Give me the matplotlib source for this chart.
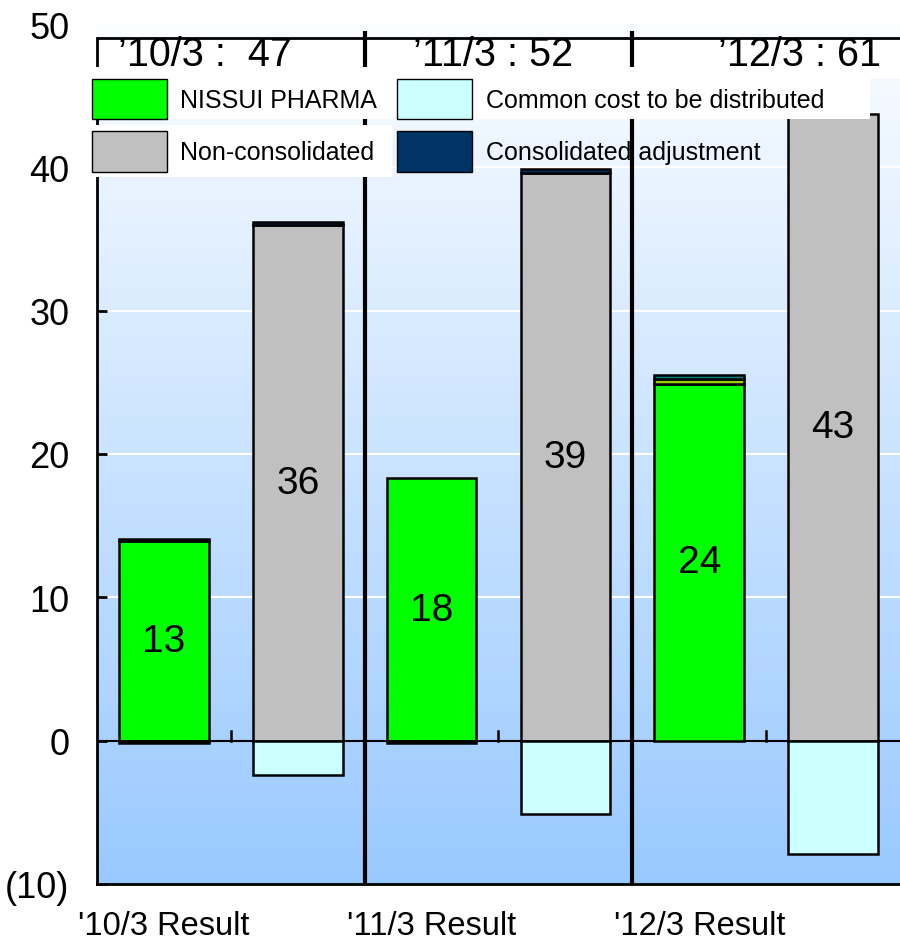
import numpy as np
import matplotlib
matplotlib.use("Agg")
import matplotlib.pyplot as plt
from matplotlib.patches import Patch, Rectangle
from matplotlib.colors import to_rgb

plt.rcParams['font.family'] = ['Liberation Sans', 'DejaVu Sans']

# data (billions of yen), bars in order: 10/3 pharma, 10/3 non-consol, 11/3 ..., 12/3 ...
periods = ["'10/3 Result", "'11/3 Result", "'12/3 Result"]
totals = ["\u201910/3 :  47", "\u201911/3 : 52", "\u201912/3 : 61"]
nissui = [13.9, 0, 18.3, 0, 24.9, 0]
non_consol = [0, 36.0, 0, 39.6, 0, 43.7]
common_cost = [0, -2.4, 0, -5.1, 0, -7.9]
cons_adj = [0.2, 0.2, 0, 0.3, 0, 0]
cons_adj_neg = [-0.15, 0, -0.15, 0, 0, 0]
other_a = [0, 0, 0, 0, 0.3, 0]
other_b = [0, 0, 0, 0, 0.3, 0]
bar_labels = ["13", "36", "18", "39", "24", "43"]

c_green = '#00ff00'
c_gray = '#c0c0c0'
c_cyan = '#ccffff'
c_navy = '#003366'
c_yg = '#99cc00'
c_teal = '#008080'

W, H = 900, 945
fig = plt.figure(figsize=(9, 9.45), dpi=100)
ax = fig.add_axes([97/W, 1-885/H, 1-97/W, 860/H])

x = np.arange(6)
w = 0.67

# gradient background
top = np.array(to_rgb('#fbfdff'))
bot = np.array(to_rgb('#99c9ff'))
t = np.linspace(0, 1, 256)[:, None]
grad = (bot + (top - bot) * t)[:, None, :]
ax.imshow(grad, extent=[-0.5, 5.5, -10, 50], origin='lower', aspect='auto', zorder=0)
ax.axhspan(46.3, 49, color='white', zorder=0.5)

for g in [10, 20, 30, 40]:
    ax.axhline(g, color='white', lw=1.5, zorder=1)
ax.axhline(0, color='black', lw=1.5, zorder=2)


def draw(vals, bottom, color):
    vals = np.array(vals, dtype=float)
    m = vals != 0
    ax.bar(x[m], vals[m], w, bottom=np.array(bottom, dtype=float)[m], color=color,
           edgecolor='black', lw=1.8, zorder=3)


zeros = np.zeros(6)
draw(nissui, zeros, c_green)
draw(non_consol, zeros, c_gray)
base = np.array(nissui) + np.array(non_consol)
draw(other_a, base, c_yg)
base = base + np.array(other_a)
draw(other_b, base, c_teal)
base = base + np.array(other_b)
draw(cons_adj, base, c_navy)
draw(common_cost, zeros, c_cyan)
draw(cons_adj_neg, zeros, c_navy)

main = np.array(nissui) + np.array(non_consol)
for xi, v, lab in zip(x, main, bar_labels):
    ax.text(xi, v / 2, lab, ha='center', va='center', fontsize=28, zorder=4)

# small tick marks on the zero line between bars
for xt in [0.5, 2.5, 4.5]:
    ax.plot([xt, xt], [0, 0.7], color='black', lw=1.8, zorder=2)

# period dividers and header row
ax.vlines([1.5, 3.5], -10, 49.5, color='black', lw=3, zorder=5, clip_on=False)
ax.hlines(49, -0.5, 5.5, color='black', lw=2, zorder=5, clip_on=False)
for xc, txt in zip([0.31, 2.46, 4.75], totals):
    ax.text(xc, 47.9, txt, ha='center', va='center', fontsize=28.5, zorder=6)

ax.set_xlim(-0.5, 5.5)
ax.set_ylim(-10, 50)
ax.set_yticks([-10, 0, 10, 20, 30, 40, 50])
ax.set_yticklabels(['(10)', '0', '10', '20', '30', '40', '50'], fontsize=26)
ax.tick_params(axis='y', direction='in', length=7, width=2, pad=20)
ax.yaxis.get_major_ticks()[-1].tick1line.set_visible(False)
ax.set_xticks([0, 2, 4])
ax.set_xticklabels(periods, fontsize=23.5)
ax.tick_params(axis='x', length=0, pad=19)
ax.spines['top'].set_visible(False)
ax.spines['right'].set_visible(False)
ax.spines['left'].set_bounds(-10, 49)
for s in ['left', 'bottom']:
    ax.spines[s].set_linewidth(2)

# white boxes behind the legend entries
fig.patches.append(Rectangle((88/W, 1-120/H), (870-88)/W, 52/H, transform=fig.transFigure,
                             facecolor='white', edgecolor='none', zorder=1))
fig.patches.append(Rectangle((88/W, 1-178/H), (392-88)/W, 52/H, transform=fig.transFigure,
                             facecolor='white', edgecolor='none', zorder=1))

handles = [Patch(facecolor=c_green, edgecolor='black'),
           Patch(facecolor=c_gray, edgecolor='black'),
           Patch(facecolor=c_cyan, edgecolor='black'),
           Patch(facecolor=c_navy, edgecolor='black')]
names = ['NISSUI PHARMA', 'Non-consolidated', 'Common cost to be distributed', 'Consolidated adjustment']
leg = fig.legend(handles, names, loc='upper left', bbox_to_anchor=(74/W, 1-62/H), ncol=2,
                 fontsize=18, handlelength=3.0, handleheight=2.1, handletextpad=0.55,
                 columnspacing=0.8, labelspacing=0.5, borderpad=0.2, frameon=False)

fig.savefig('out.png', dpi=100)
